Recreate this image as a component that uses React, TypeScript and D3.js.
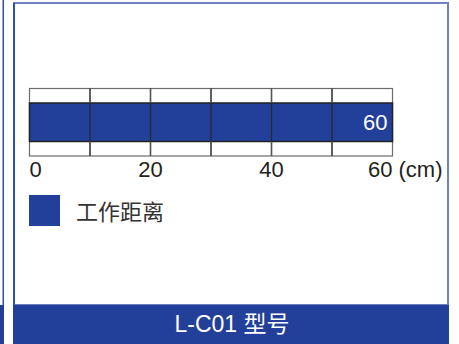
import React, { useEffect, useRef } from "react";
import * as d3 from "d3";

const categories = ["工作距离"];
const values = [60];
const gridTicks = [0, 10, 20, 30, 40, 50, 60];
const axisTicks = [0, 20, 40, 60];
const unitLabel = "(cm)";
const footerLabel = "L-C01 型号";

const W = 459;
const H = 344;
const BLUE = "#22409a";
const TEXT = "#231f20";

export default function App() {
  const ref = useRef<SVGSVGElement | null>(null);

  useEffect(() => {
    const svg = d3.select(ref.current);
    svg.selectAll("*").remove();

    const x = d3.scaleLinear().domain([0, 60]).range([29.5, 392.5]);
    const gridTop = 88.5;
    const barTop = 103;
    const barBot = 141.5;
    const gridBot = 156;

    // background
    svg.append("rect").attr("x", 0).attr("y", 0).attr("width", W).attr("height", H).attr("fill", "#fff");

    // left neighbour panel remnants
    svg.append("rect").attr("x", 2.5).attr("y", 0).attr("width", 1.5).attr("height", 305).attr("fill", "#2c4fb8");
    svg.append("rect").attr("x", 0).attr("y", 305).attr("width", 4).attr("height", H - 305).attr("fill", BLUE);

    // main panel border
    svg.append("rect").attr("x", 14).attr("y", 3).attr("width", 434).attr("height", 302)
      .attr("fill", "none").attr("stroke", "#6f82c4").attr("stroke-width", 2);
    svg.append("line").attr("x1", 14).attr("x2", 14).attr("y1", 3).attr("y2", 305)
      .attr("stroke", "#2c4fc0").attr("stroke-width", 2);

    // footer
    svg.append("rect").attr("x", 13).attr("y", 305).attr("width", 436).attr("height", H - 305).attr("fill", BLUE);
    svg.append("text").attr("x", 232).attr("y", 332).attr("text-anchor", "middle")
      .attr("fill", "#fff").attr("font-size", 23)
      .attr("font-family", "'Liberation Sans', Arial, 'Noto Sans CJK SC', sans-serif")
      .text(footerLabel);

    // grid frame (white rows)
    const g = svg.append("g");
    g.append("rect").attr("x", x(0)).attr("y", gridTop).attr("width", x(60) - x(0)).attr("height", gridBot - gridTop)
      .attr("fill", "#fff").attr("stroke", "#6b6b6b").attr("stroke-width", 1.2);

    // bars
    const y = d3.scaleBand().domain(categories).range([barTop, barBot]).padding(0);
    g.selectAll("rect.bar").data(values).enter().append("rect").attr("class", "bar")
      .attr("x", x(0)).attr("y", (_d, i) => y(categories[i]) as number)
      .attr("width", (d) => x(d) - x(0)).attr("height", y.bandwidth())
      .attr("fill", BLUE).attr("stroke", "#222").attr("stroke-width", 1.5);

    // vertical grid lines
    g.selectAll("line.v").data(gridTicks.slice(1, -1)).enter().append("line")
      .attr("x1", (d) => x(d)).attr("x2", (d) => x(d))
      .attr("y1", gridTop).attr("y2", gridBot)
      .attr("stroke", "#2a2a2a").attr("stroke-width", 1.3);
    g.selectAll("line.vg").data(gridTicks.slice(1, -1)).enter().append("line")
      .attr("x1", (d) => x(d)).attr("x2", (d) => x(d))
      .attr("y1", gridTop).attr("y2", barTop)
      .attr("stroke", "#555").attr("stroke-width", 1.3);
    g.selectAll("line.vb").data(gridTicks.slice(1, -1)).enter().append("line")
      .attr("x1", (d) => x(d)).attr("x2", (d) => x(d))
      .attr("y1", barBot).attr("y2", gridBot)
      .attr("stroke", "#555").attr("stroke-width", 1.3);

    // value label
    g.selectAll("text.val").data(values).enter().append("text")
      .attr("x", (d) => x(d) - 5).attr("y", (_d, i) => (y(categories[i]) as number) + 27)
      .attr("text-anchor", "end").attr("fill", "#fff").attr("font-size", 22)
      .attr("font-family", "'Liberation Sans', Arial, sans-serif")
      .text((d) => String(d));

    // axis labels
    const font = "'Liberation Sans', Arial, sans-serif";
    g.selectAll("text.tick").data(axisTicks).enter().append("text")
      .attr("x", (d) => x(d))
      .attr("y", 176.5)
      .attr("text-anchor", (d, i) => (i === 0 ? "start" : i === axisTicks.length - 1 ? "end" : "middle"))
      .attr("fill", TEXT).attr("font-size", 22).attr("font-family", font)
      .text((d) => String(d));
    g.append("text").attr("x", x(60) + 6).attr("y", 176.5)
      .attr("fill", TEXT).attr("font-size", 22).attr("font-family", font).text(unitLabel);

    // legend
    svg.append("rect").attr("x", 29).attr("y", 195).attr("width", 31).attr("height", 31).attr("fill", BLUE);
    svg.append("text").attr("x", 76).attr("y", 219.5).attr("fill", "#333")
      .attr("font-size", 22).attr("font-family", "'Noto Sans CJK SC', sans-serif")
      .text(categories[0]);
  }, []);

  return (
    <svg ref={ref} width={W} height={H} style={{ position: "absolute", left: 0, top: 0 }} />
  );
}
